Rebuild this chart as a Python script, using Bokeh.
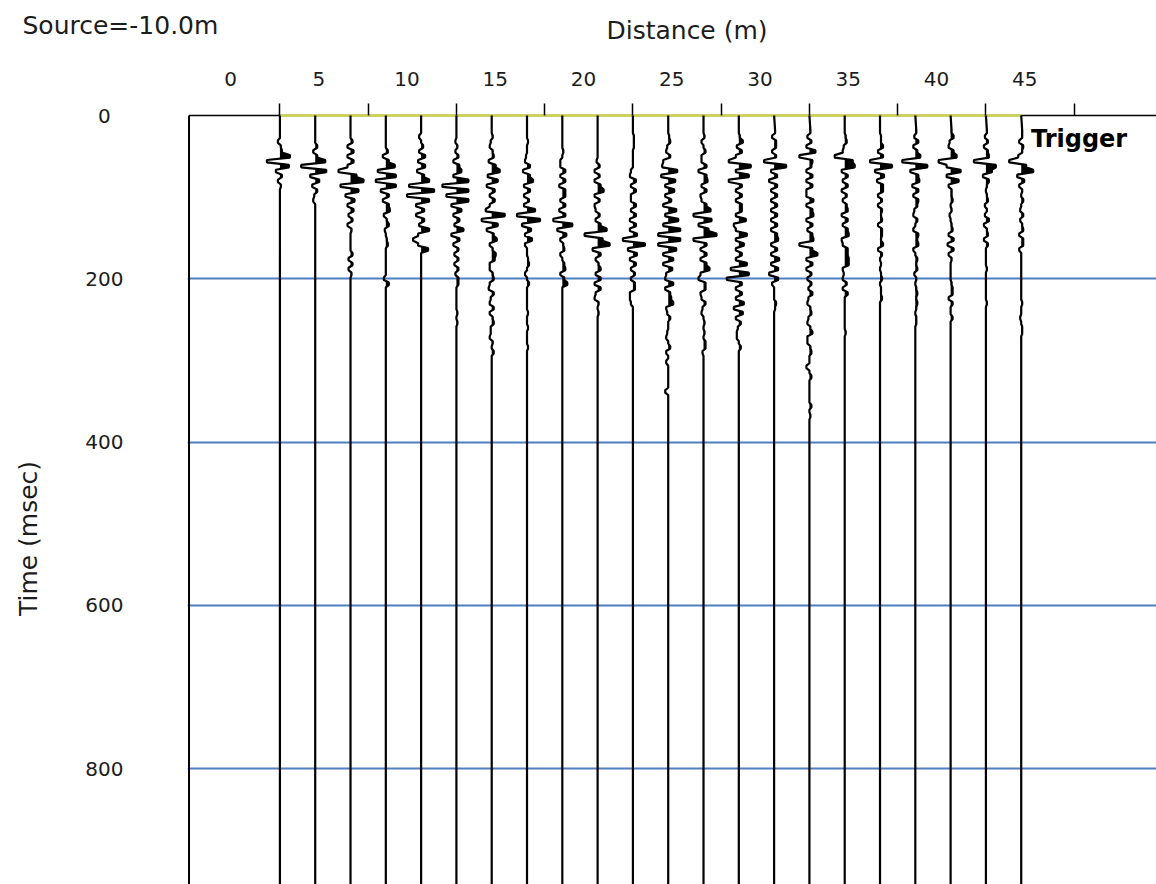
import numpy as np
from bokeh.plotting import figure
from bokeh.layouts import column, row
from bokeh.models import Range1d, FixedTicker
from bokeh.core.properties import value
from bokeh.embed import file_html
from bokeh.resources import INLINE

# ---- shot gather: source at -10.0 m, 22 geophones, 2 m spacing ----
source_text = "Source=-10.0m"
offsets = [2.8, 4.8, 6.8, 8.8, 10.8, 12.8, 14.8, 16.8, 18.8, 20.8, 22.8,
           24.8, 26.8, 28.8, 30.8, 32.8, 34.8, 36.8, 38.8, 40.8, 42.8, 44.8]
tick_marks = [2.8, 7.8, 12.8, 17.8, 22.8, 27.8, 32.8, 37.8, 42.8, 47.8]
dist_labels = [0, 5, 10, 15, 20, 25, 30, 35, 40, 45]
time_labels = [0, 200, 400, 600, 800]
time_grid = [200, 400, 600, 800]
record_end = 942.0      # ms shown
t_start = 20.0          # first sample of the wiggle arrays (ms)
t_step = 6.0            # sample interval of the wiggle arrays (ms)

# trace amplitudes (display units), one list per channel, from t_start every t_step
amp_01 = [0, 0, -2, 1, 2, 10, -13, 9, -4, 2, -2, 1, 0]
amp_02 = [0, 0, 0, 2, -2, 2, 10, -14, 11, -5, 4, -3, 2, -1, -2, 0]
amp_03 = [0, 0, 2, -3, 3, -3, 3, -3, -12, 6, 13, -10, 8, -5, 4, -3, 3, -2, 2, -3,
          1, 0, 0, 0, 0, 2, -2, 2, -2, 1, 0]
amp_04 = [0, 0, 0, 0, 2, -3, 3, 9, -8, 10, -10, 10, -5, 3, -3, 3, 4, -2, 1, 3,
          -1, 0, 1, 2, 0, 0, 0, 0, 0, 0, -2, 3, 0]
amp_05 = [0, -2, 0, 2, -2, 4, -3, 4, -4, 3, 8, -12, 13, -14, 8, -5, 3, -5, 3, -2,
          8, -3, -8, -3, 7, 0]
amp_06 = [0, 0, -1, 1, -1, 2, -3, 3, 5, -3, 12, -14, 12, -10, 12, -5, 5, -3, 3, -2,
          7, -5, 3, -3, 2, -2, 2, -2, 2, -1, 2, 2, 0, 0, 0, 0, 0, 1, 0, 1, 0]
amp_07 = [0, 1, -1, -2, 1, 2, -3, 4, 8, -4, 6, -5, 3, -2, 3, -2, -6, 13, -10, 6,
          -5, 2, 5, -2, 1, 4, 3, -2, -2, 1, 2, -2, -3, 2, -1, -2, 2, -2, 1, 2,
          -1, -1, -2, 1, 0, 2, 0]
amp_08 = [0, 0, 1, 0, 0, -1, -2, 3, -4, 3, 6, -3, 3, -3, 2, -3, 8, -10, 13, -5,
          4, -2, 5, -2, 0, 0, 1, 2, 0, -2, 0, 2, 0, 0, 0, 0, 0, 1, 0, 0,
          1, 0, 0, 0, 1, 0]
amp_09 = [0, 0, 0, 0, 1, 0, -2, -2, 3, -2, 3, -3, 3, 3, -2, 3, -3, 3, -9, 10,
          -5, 4, -2, 1, 2, -2, 0, 2, 3, -2, 2, 5, 0]
amp_10 = [0, 0, 0, 0, 0, 0, -1, 2, -3, 2, -3, 3, 6, -3, 2, -3, -2, 2, -2, 3,
          9, -13, 5, 12, -5, 3, -2, 1, 3, -2, 3, -3, 3, -2, -3, 1, 0, 1, 0]
amp_11 = [0, 1, 1, 1, 0, 0, 0, 0, -2, -3, 3, -2, 3, -2, -2, 3, -2, 3, -3, 3,
          -3, 4, -10, 12, -5, 4, -3, 3, -2, 2, -2, 2, 2, -3, -3, -2, 0]
amp_12 = [0, 1, 2, -1, -2, 2, -5, -6, 9, -7, 7, -3, 6, -3, 3, -5, 8, -3, 10, -5,
          12, -10, 12, -10, 8, -5, 5, -5, 4, -2, -3, 5, -3, 2, 3, 5, -2, -1, 2, 0,
          0, -1, -2, 0, 2, -2, 0, -2, 0, 0, 0, 0, 0, -3, 0]
amp_13 = [0, 1, -2, 0, 2, -2, -2, 3, -5, 3, 4, -2, 3, -3, -2, 3, 7, -10, 8, -5,
          5, 13, -10, 3, -3, 3, -3, 3, 6, -3, -5, 2, 2, -3, -2, 2, -1, -2, 0, 1,
          0, 1, 0, 2, 2, -1, 0]
amp_14 = [0, 1, 4, -2, 3, -3, -10, 12, -3, 10, -10, 3, -3, 3, -3, 3, 3, -3, 7, -5,
          -3, 8, -3, 5, -3, 3, -3, 8, -8, 10, -12, 3, -3, 3, -3, 5, -5, 4, -3, 2,
          -1, -2, -2, 0, 2, 0]
amp_15 = [1, -2, 2, 2, -2, 2, -10, 12, -3, 3, -5, 3, -3, 3, -3, 3, -3, 3, -3, 3,
          -3, 3, 4, -3, 3, -3, 5, -3, 4, -5, 4, -2, 0, 0, 0, 2, 1, 0]
amp_16 = [1, -2, 2, -3, 6, -10, 3, 2, -3, 3, -3, 3, -3, -3, 4, -3, 3, 4, -3, 3,
          -2, 3, 4, -10, 3, 8, -3, 3, -3, 2, -2, 2, -1, 3, -1, -2, 1, 2, -1, -2,
          1, 3, -2, -2, 1, 2, 0, 0, -3, 0, 2, 0, 0, 0, 0, 0, 2, 0, 1, 0]
amp_17 = [0, 1, 2, -1, -2, -10, 8, 10, -3, 3, -2, 3, -3, 2, -2, 2, 3, -3, 3, -2,
          3, 4, -3, -2, 3, 3, 4, 4, -2, -1, -2, 2, -2, 3, 0, 0, 0, 0, 0, 0,
          0, 1, 0]
amp_18 = [0, 1, 1, 3, -2, 3, -10, 12, -5, 4, -3, 3, 3, -2, 2, -2, 2, 1, 2, -2,
          2, 2, 1, 3, -2, 2, 0, 1, 0, 1, 2, 0, 1, 1, 2, 0]
amp_19 = [1, -1, 3, -2, 2, 5, -13, 12, -5, 3, 4, -3, 3, -2, 3, 2, -1, -2, 2, 0,
          -2, 3, 2, 3, -2, 0, 2, 1, 2, -1, 1, 0, 1, 2, 1, 2, 1, 0, 1, 1, 0]
amp_20 = [1, 3, -1, -2, 3, 6, -12, -4, 10, -4, 8, -2, 1, 1, 2, 0, 1, -1, 0, 1,
          2, -2, 3, -3, 3, -2, 1, 0, 0, 0, 0, 1, 2, 2, -2, 2, 0, 0, 2, 0]
amp_21 = [1, -1, 2, -2, 2, 3, -12, 10, 6, -3, 3, 1, 0, 1, 2, -1, 1, -1, 3, -2,
          1, 2, -2, 2, 0, 0, 0, 0, 1, 0, 0, 0, 0, 0, 0, 1, 0]
amp_22 = [1, 1, -2, 2, 1, -3, -12, 5, 12, -4, 3, -2, 1, 0, 2, 0, -1, 2, -1, 1,
          2, -2, 2, 2, -2, 0, 0, 0, 0, 0, 0, 0, 0, 0, 0, 1, 0, 0, -1, 0,
          1, 1, 0]

traces = [amp_01, amp_02, amp_03, amp_04, amp_05, amp_06, amp_07, amp_08,
          amp_09, amp_10, amp_11, amp_12, amp_13, amp_14, amp_15, amp_16,
          amp_17, amp_18, amp_19, amp_20, amp_21, amp_22]

GAIN = 1.0 / 17.65          # display units -> metres on the distance axis
HOLD = 1.5                  # ms each sample is held before the next swing
FONT = "DejaVu Sans"
INK = "#1c1c1c"
W, H = 1156, 884
HEADER_H = 50               # strip above the gather for the captions
STRIP_W = 50                # strip left of the gather for the time title


def blank(width, height, xr, yr):
    f = figure(width=width, height=height, x_range=Range1d(*xr), y_range=Range1d(*yr),
               toolbar_location=None, output_backend="svg", min_border=0,
               frame_align=False)
    f.axis.visible = False
    f.grid.visible = False
    f.outline_line_color = None
    return f


# ---- header strip: shot caption and distance-axis title ----
header = blank(W, HEADER_H, (0, W), (HEADER_H, 0))
header.text(x=[22], y=[25], text=[source_text], text_font=value(FONT),
            text_font_size="25px", text_color=INK, text_align="left",
            text_baseline="alphabetic")
header.text(x=[686.5], y=[30], text=["Distance (m)"], text_font=value(FONT),
            text_font_size="25px", text_color=INK, text_align="center",
            text_baseline="alphabetic")

# ---- left strip: time-axis title ----
side = blank(STRIP_W, H - HEADER_H, (0, STRIP_W), (H, HEADER_H))
side.text(x=[28], y=[538], text=["Time (msec)"], text_font=value(FONT),
          text_font_size="25px", text_color=INK, text_align="center",
          text_baseline="alphabetic", angle=np.pi / 2)

# ---- gather ----
p = figure(width=W - STRIP_W, height=H - HEADER_H,
           x_range=Range1d(-2.436, 52.465), y_range=Range1d(record_end, -2.45),
           x_axis_location="above", toolbar_location=None, output_backend="svg",
           min_border_left=187 - STRIP_W, min_border_top=113 - HEADER_H,
           min_border_right=0, min_border_bottom=0, frame_align=False)
p.outline_line_color = None
p.xgrid.visible = False
p.ygrid.ticker = FixedTicker(ticks=time_grid)
p.ygrid.grid_line_color = "#4f7fbf"
p.ygrid.grid_line_width = 2

# distance axis: labels on the major ticks, tick marks as minor ticks
xa = p.xaxis[0]
xa.ticker = FixedTicker(ticks=dist_labels, minor_ticks=tick_marks)
xa.axis_line_color = None
xa.major_tick_out = 0
xa.major_tick_in = 0
xa.major_tick_line_color = None
xa.minor_tick_out = 10
xa.minor_tick_in = 2
xa.minor_tick_line_color = "black"
xa.minor_tick_line_width = 1.5
xa.major_label_text_font = FONT
xa.major_label_text_font_size = "20px"
xa.major_label_text_color = INK
xa.major_label_standoff = 18

# time axis (labels centred over a three-digit column)
ya = p.yaxis[0]
ya.ticker = FixedTicker(ticks=time_labels)
ya.axis_line_color = None
ya.major_tick_out = 0
ya.major_tick_in = 0
ya.major_tick_line_color = None
ya.minor_tick_line_color = None
ya.major_label_text_font = FONT
ya.major_label_text_font_size = "20px"
ya.major_label_text_color = INK
ya.major_label_overrides = {0: "0\u2007"}
ya.major_label_standoff = 64

# frame: left edge and the zero-time line
p.segment(x0=[-2.35], y0=[0], x1=[-2.35], y1=[record_end], line_color="black", line_width=2)
p.segment(x0=[-2.35], y0=[0], x1=[52.465], y1=[0], line_color="black", line_width=1.5)
p.segment(x0=[offsets[0]], y0=[0], x1=[offsets[-1]], y1=[0], line_color="#cdd44f", line_width=2.5)


def positive_lobes(x0, xs, ys):
    """Polygon of a wiggle clipped to the right of its baseline."""
    fx, fy = [x0], [ys[0]]
    for k in range(1, len(xs)):
        d0, d1 = xs[k - 1] - x0, xs[k] - x0
        if (d0 > 0) != (d1 > 0) and d0 != d1:
            f = d0 / (d0 - d1)
            fx.append(x0)
            fy.append(ys[k - 1] + f * (ys[k] - ys[k - 1]))
        fx.append(max(xs[k], x0))
        fy.append(ys[k])
    fx.append(x0)
    fy.append(ys[-1])
    return fx, fy


# wiggle traces: each sample held briefly, positive lobes filled
wig_x, wig_y, fill_x, fill_y = [], [], [], []
for x0, amps in zip(offsets, traces):
    a = np.asarray(amps, dtype=float)
    t = t_start + t_step * np.arange(len(a))
    xs, ys = [x0], [0.0]
    for ai, ti in zip(a, t):
        xs += [x0 + ai * GAIN, x0 + ai * GAIN]
        ys += [ti - HOLD, ti + HOLD]
    xs.append(x0)
    ys.append(record_end)
    wig_x.append(xs)
    wig_y.append(ys)
    fx, fy = positive_lobes(x0, xs, ys)
    fill_x.append(fx)
    fill_y.append(fy)

p.patches(xs=fill_x, ys=fill_y, fill_color="black", line_color=None)
p.multi_line(xs=wig_x, ys=wig_y, line_color="black", line_width=2.2)

p.text(x=[offsets[-1] + 0.55], y=[29.0], text=["Trigger"], text_font=value(FONT),
       text_font_size="24px", text_font_style="bold", text_color="black",
       text_align="left", text_baseline="alphabetic")

layout = column(header, row(side, p, spacing=0), spacing=0)
open("out.html", "w").write(file_html(layout, INLINE))
